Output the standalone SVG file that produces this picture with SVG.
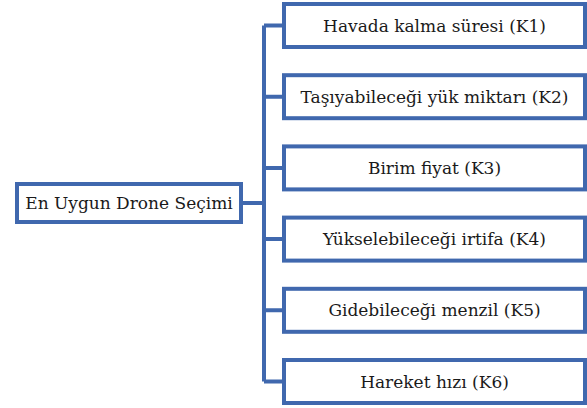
<svg xmlns="http://www.w3.org/2000/svg" width="587" height="408" viewBox="0 0 587 408">
<style>
.box{fill:#fff;stroke:#4068ae;stroke-width:4}
.ln{fill:none;stroke:#4068ae;stroke-width:4}
text{font-family:"DejaVu Serif","Liberation Serif",serif;font-size:17px;fill:#1a1a1a;text-anchor:middle;dominant-baseline:central}
</style>
<rect width="587" height="408" fill="#fff"/>
<g id="connectors">
<path class="ln" d="M241 203H264M264 25.5V381.5M264 25.5H284M264 96.7H284M264 167.9H284M264 239.1H284M264 310.3H284M264 381.5H284"/>
</g>
<g id="root"><rect class="box" x="17" y="184" width="224" height="38"/><text x="129" y="203">En Uygun Drone Seçimi</text></g>
<g id="k1"><rect class="box" x="284" y="4" width="301" height="43"/><text x="434.5" y="25.5">Havada kalma süresi (K1)</text></g>
<g id="k2"><rect class="box" x="284" y="75.2" width="301" height="43"/><text x="434.5" y="96.7">Taşıyabileceği yük miktarı (K2)</text></g>
<g id="k3"><rect class="box" x="284" y="146.4" width="301" height="43"/><text x="434.5" y="167.9">Birim fiyat (K3)</text></g>
<g id="k4"><rect class="box" x="284" y="217.6" width="301" height="43"/><text x="434.5" y="239.1">Yükselebileceği irtifa (K4)</text></g>
<g id="k5"><rect class="box" x="284" y="288.8" width="301" height="43"/><text x="434.5" y="310.3">Gidebileceği menzil (K5)</text></g>
<g id="k6"><rect class="box" x="284" y="360" width="301" height="43"/><text x="434.5" y="381.5">Hareket hızı (K6)</text></g>
</svg>
